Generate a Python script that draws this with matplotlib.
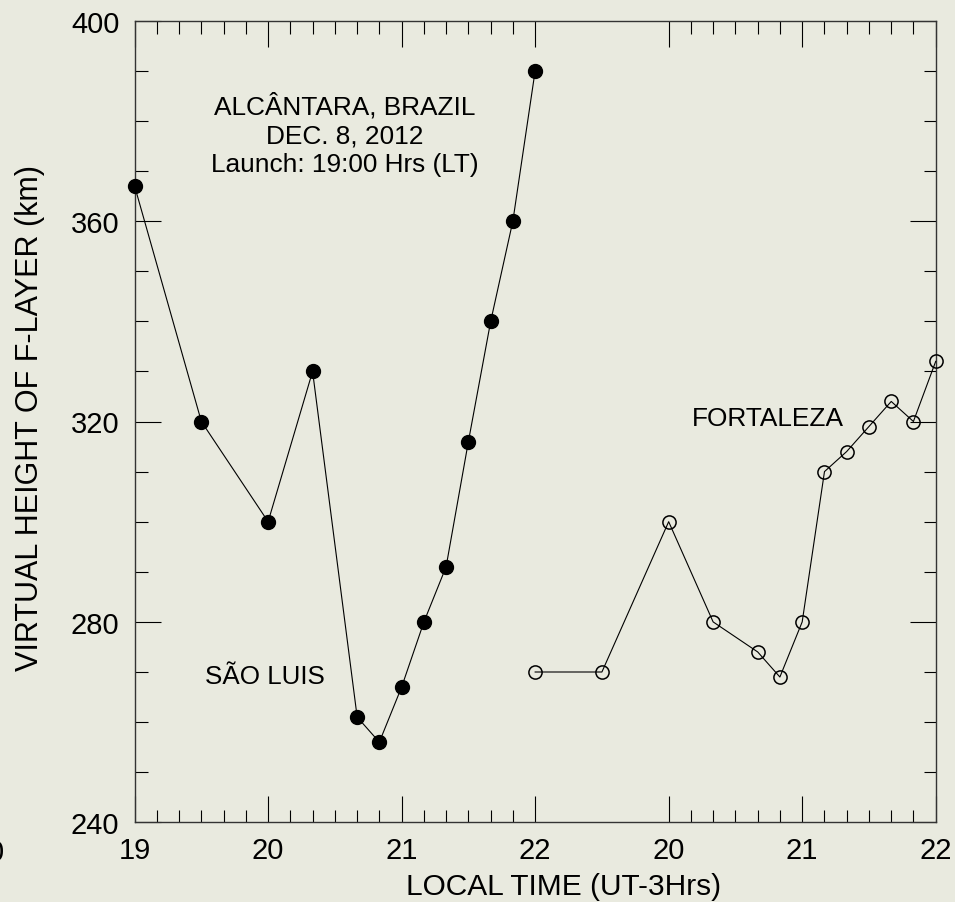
import numpy as np
import matplotlib
matplotlib.use("Agg")
import matplotlib.pyplot as plt

plt.rcParams["font.family"] = ["Liberation Sans", "DejaVu Sans"]

# Sao Luis (filled) - local time in hours
sao_luis_time = [19.0, 19.5, 20.0, 20.333, 20.667, 20.833, 21.0, 21.167, 21.333, 21.5, 21.667, 21.833, 22.0]
sao_luis_height = [367, 320, 300, 330, 261, 256, 267, 280, 291, 316, 340, 360, 390]

# Fortaleza (open) - local time in hours, drawn in the second panel
fortaleza_time = [19.0, 19.5, 20.0, 20.333, 20.667, 20.833, 21.0, 21.167, 21.333, 21.5, 21.667, 21.833, 22.0]
fortaleza_height = [270, 270, 300, 280, 274, 269, 280, 310, 314, 319, 324, 320, 332]

# second panel is placed 3 hours to the right on the same axis
panel_offset = 3.0
major_ticks = [19, 20, 21, 22, 23, 24, 25]
major_labels = ["19", "20", "21", "22", "20", "21", "22"]

bg = "#E9EADF"
fig = plt.figure(figsize=(9.55, 9.03), dpi=100, facecolor=bg)
ax = fig.add_axes([134.6 / 955, 1 - 823.3 / 903, 801.1 / 955, 801.6 / 903])
ax.set_facecolor(bg)

ax.plot(sao_luis_time, sao_luis_height, color="black", lw=0.8,
        marker="o", ms=10, mfc="black", mec="black", clip_on=False, zorder=3)
ax.plot(np.array(fortaleza_time) + panel_offset, fortaleza_height, color="black", lw=0.8,
        marker="o", ms=9.5, mfc="none", mec="black", mew=1.1, clip_on=False, zorder=3)

ax.set_xlim(19, 25)
ax.set_ylim(240, 400)

ax.set_xticks(major_ticks)
ax.set_xticklabels(major_labels)
minor_x = [19 + i / 6 for i in range(1, 18)] + [23 + i / 6 for i in range(1, 12)]
minor_x = [m for m in minor_x if abs(m - round(m)) > 1e-6]
ax.set_xticks(minor_x, minor=True)
ax.set_yticks([240, 280, 320, 360, 400])
ax.set_yticks(np.arange(250, 400, 10), minor=True)

ax.tick_params(which="both", direction="in", top=True, right=True, width=0.8, color="black")
ax.tick_params(which="major", length=19, labelsize=21)
ax.tick_params(which="minor", length=9)
ax.tick_params(axis="x", which="major", pad=10)
ax.tick_params(axis="y", which="major", pad=11)
for s in ax.spines.values():
    s.set_linewidth(1.0)
    s.set_color("#333333")

ax.set_xlabel("LOCAL TIME (UT-3Hrs)", fontsize=21.5)
ax.xaxis.set_label_coords(0.536, -0.079)
ax.xaxis.label.set_va("center")
ax.set_ylabel("VIRTUAL HEIGHT OF F-LAYER (km)", fontsize=22)
ax.yaxis.set_label_coords(-0.131, 0.505)
ax.yaxis.label.set_va("center")

ax.text(20.576, 377.4, "ALCÂNTARA, BRAZIL\nDEC. 8, 2012\nLaunch: 19:00 Hrs (LT)",
        ha="center", va="center", multialignment="center", fontsize=18.9, linespacing=1.26)
ax.text(19.527, 269.2, "SÃO LUIS", ha="left", va="center", fontsize=18.7)
ax.text(23.175, 320.7, "FORTALEZA", ha="left", va="center", fontsize=18.9)

# clipped leftover label at the far left edge
fig.text(4 / 955, 1 - 853 / 903, "0", ha="right", va="center", fontsize=21)

fig.savefig("out.png", dpi=100, facecolor=bg)
